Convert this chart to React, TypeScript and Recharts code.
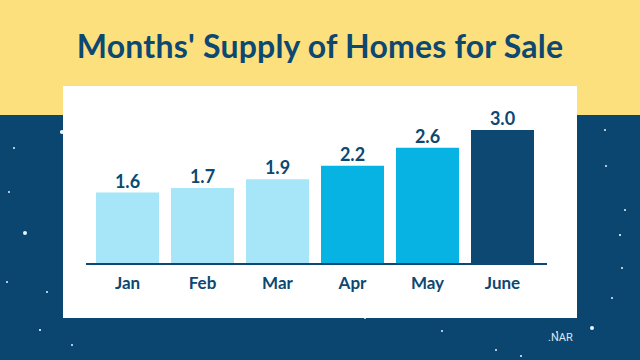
import { BarChart, Bar, XAxis, YAxis, Cell, LabelList } from 'recharts'

const months = ['Jan', 'Feb', 'Mar', 'Apr', 'May', 'June']
const supply = [1.6, 1.7, 1.9, 2.2, 2.6, 3.0]
const barColors = ['#a6e6f8', '#a6e6f8', '#a6e6f8', '#07b3e2', '#07b3e2', '#0c4871']

const data = months.map((month, i) => ({ month, supply: supply[i] }))

// decorative background stars [x, y, r]
const stars: [number, number, number][] = [
    [14, 148, 1.2], [9, 192, 1.4], [25, 233, 2.2], [7, 282, 1], [47, 292, 1.2],
    [40, 330, 0.8], [72, 345, 1.2], [605, 130, 1.4], [606, 166, 1], [625, 210, 1],
    [620, 235, 0.8], [622, 268, 1.2], [612, 298, 1], [592, 328, 2.2], [557, 332, 1.2],
    [442, 331, 1.2], [496, 350, 1.2], [521, 356, 1.2], [365, 318, 1.2], [62, 132, 1.8],
]

const navy = '#0c4871'
const font = 'Lato, "Open Sans", sans-serif'

export default function App() {
    return (
        <div style={{ position: 'fixed', left: 0, top: 0, width: 640, height: 360, overflow: 'hidden', background: '#0b4670', fontFamily: font }}>
            <div style={{ position: 'absolute', left: 0, top: 0, width: 640, height: 115, background: '#fde07e' }} />
            {stars.map(([x, y, r], i) => (
                <div
                    key={i}
                    style={{
                        position: 'absolute',
                        left: x - r,
                        top: y - r,
                        width: r * 2,
                        height: r * 2,
                        borderRadius: '50%',
                        background: '#e8f4ff',
                    }}
                />
            ))}
            <div
                style={{
                    position: 'absolute',
                    left: 0,
                    top: 27,
                    width: 640,
                    textAlign: 'center',
                    color: navy,
                    fontSize: 32,
                    fontWeight: 700,
                    lineHeight: '38px',
                    letterSpacing: 0.2,
                }}
            >
                Months' Supply of Homes for Sale
            </div>
            <div style={{ position: 'absolute', left: 63, top: 86, width: 514, height: 232, background: '#ffffff' }} />
            <div style={{ position: 'absolute', left: 548, top: 331, color: '#dbe6f0', fontSize: 11, fontFamily: 'Roboto, sans-serif' }}>
                .NAR
            </div>
            <div style={{ position: 'absolute', left: 0, top: 0 }}>
                <BarChart
                    width={640}
                    height={360}
                    data={data}
                    margin={{ top: 130, right: 93, left: 86, bottom: 0 }}
                    barCategoryGap={6}
                >
                    <XAxis
                        dataKey="month"
                        height={96}
                        padding={{ left: 4, right: 7 }}
                        axisLine={{ stroke: navy, strokeWidth: 2 }}
                        tickLine={false}
                        tickMargin={7}
                        tick={{ fill: navy, fontSize: 17, fontWeight: 700, fontFamily: font }}
                    />
                    <YAxis hide domain={[0, 3]} />
                    <Bar dataKey="supply" isAnimationActive={false}>
                        {data.map((d, i) => (
                            <Cell key={d.month} fill={barColors[i]} />
                        ))}
                        <LabelList
                            dataKey="supply"
                            position="top"
                            offset={5}
                            formatter={(v: any) => Number(v).toFixed(1)}
                            style={{ fill: navy, fontSize: 18, fontWeight: 700, fontFamily: font }}
                        />
                    </Bar>
                </BarChart>
            </div>
        </div>
    )
}
